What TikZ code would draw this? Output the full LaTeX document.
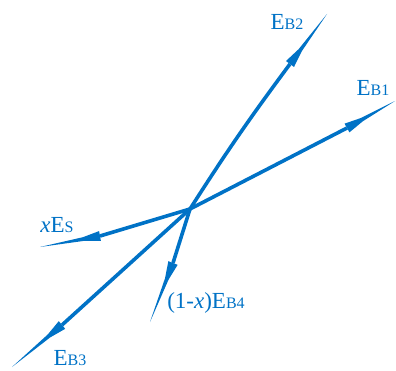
\documentclass[tikz,border=0pt]{standalone}
\usepackage{fontspec}
\setmainfont{Liberation Serif}
\usetikzlibrary{calc}
\definecolor{eb}{RGB}{0,114,198}
\newcommand{\smc}[1]{{\fontsize{16}{16}\selectfont #1}}
\tikzset{
  lab/.style={text=eb, font=\fontsize{23}{23}\selectfont, inner sep=0pt},
  shaft/.style={draw=eb, line width=3.6pt},
}
% spear head: back at #1, tip at #2
\newcommand{\spearhead}[2]{%
  \fill[eb] ($(#1)!5pt!90:(#2)$) -- ($($(#1)!17pt!(#2)$)!1.9pt!90:(#2)$) -- (#2)
     -- ($($(#1)!17pt!(#2)$)!1.9pt!-90:(#2)$) -- ($(#1)!5pt!-90:(#2)$) -- cycle;}
\begin{document}
\begin{tikzpicture}[x=1pt,y=1pt]
\useasboundingbox (0,0) rectangle (396,370);
\coordinate (C) at (190,161);
\coordinate (b2) at (290,306); \coordinate (t2) at (327,356);
\coordinate (b1) at (347,242); \coordinate (t1) at (395,269);
\coordinate (bs) at (100,134); \coordinate (ts) at (40,123);
\coordinate (b3) at (62,45);   \coordinate (t3) at (12,3);
\coordinate (b4) at (173,107); \coordinate (t4) at (150,48);

\draw[shaft] (C) to[bend left=2] (b2);
\draw[shaft] (C) -- (b1);
\draw[shaft] (C) -- (bs);
\draw[shaft] (C) -- (b3);
\draw[shaft] (C) -- (b4);
\spearhead{b2}{t2}
\spearhead{b1}{t1}
\spearhead{bs}{ts}
\spearhead{b3}{t3}
\spearhead{b4}{t4}

\node[lab] (l2) at (287,348) {E\smc{B2}};
\node[lab] (l1) at (373,282) {E\smc{B1}};
\node[lab] (ls) at (57,145) {\textit{x}E\smc{S}};
\node[lab] (l4) at (206,67) {(1-\textit{x})E\smc{B4}};
\node[lab] (l3) at (70,12) {E\smc{B3}};
\end{tikzpicture}
\end{document}
